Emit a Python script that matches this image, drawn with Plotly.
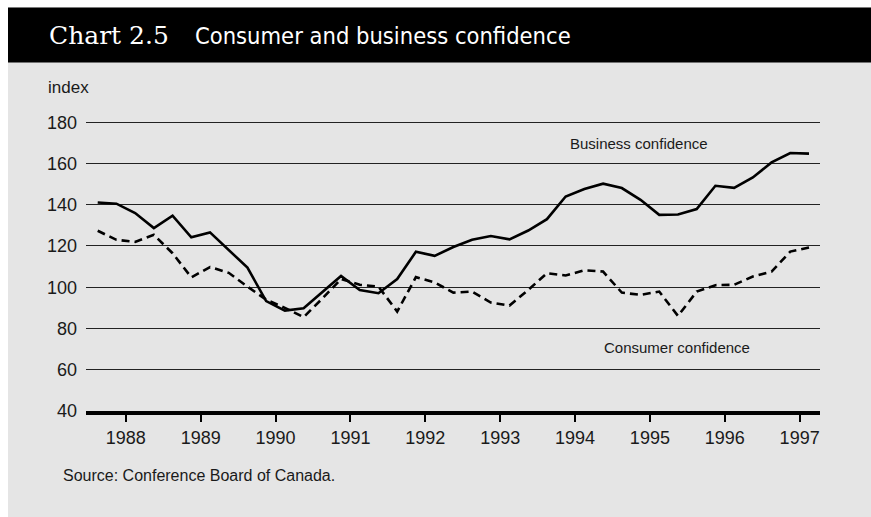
import plotly.graph_objects as go

# Quarterly observations, 1988Q1 - 1997Q3
years = list(range(1988, 1998))
quarters = [f"{1988 + i // 4}Q{i % 4 + 1}" for i in range(39)]

business = [141.1, 140.5, 136.0, 128.7, 134.7, 124.2, 126.6, 118.0, 109.5, 93.3,
            88.7, 89.8, 97.6, 105.5, 98.7, 97.1, 104.0, 117.2, 115.2, 119.5,
            123.0, 124.8, 123.2, 127.5, 133.0, 144.0, 147.6, 150.2, 148.1, 142.4,
            135.1, 135.3, 137.9, 149.2, 148.2, 153.2, 160.5, 165.1, 164.8]

consumer = [127.4, 123.0, 122.0, 125.4, 116.5, 104.8, 109.8, 107.0, 100.3, 94.0,
            90.0, 85.5, 94.5, 104.0, 101.2, 100.3, 88.2, 104.9, 102.3, 97.4,
            97.9, 92.6, 91.1, 98.7, 106.8, 105.7, 108.2, 107.6, 97.4, 96.3,
            97.9, 86.1, 97.9, 101.0, 101.2, 105.2, 107.6, 117.3, 119.3]

y_ticks = [40, 60, 80, 100, 120, 140, 160, 180]


def quarter_to_time(q):
    # centre of each quarter in decimal years
    yr, qq = int(q[:4]), int(q[-1])
    return yr + (qq - 0.5) / 4


t = [quarter_to_time(q) for q in quarters]

W, H = 871, 517
Y_MIN, Y_MAX = 40, 180.6          # a little headroom so the 180 rule is drawn
PX_PER_UNIT = 2.06
L, R, B = 86, 820, 411
T = B - (Y_MAX - Y_MIN) * PX_PER_UNIT


def xp(px):
    return (px - L) / (R - L)


def yp(py):
    return (B - py) / (B - T)


BG = "#e5e5e5"
INK = "#1a1a1a"
NARROW = "DejaVu Sans Condensed, Liberation Sans Narrow, Liberation Sans"

fig = go.Figure()
fig.add_trace(go.Scatter(x=t, y=business, mode="lines",
                         line=dict(color="black", width=2.6),
                         name="Business confidence", hoverinfo="skip"))
fig.add_trace(go.Scatter(x=t, y=consumer, mode="lines",
                         line=dict(color="black", width=2.6, dash="8px,5px"),
                         name="Consumer confidence", hoverinfo="skip"))

shapes = [
    # grey panel
    dict(type="rect", xref="paper", yref="paper", x0=xp(8), x1=xp(W + 2),
         y0=yp(H + 2), y1=yp(8), fillcolor=BG, line=dict(width=0), layer="below"),
    # black title band
    dict(type="rect", xref="paper", yref="paper", x0=xp(8), x1=xp(W + 2),
         y0=yp(63), y1=yp(8), fillcolor="black", line=dict(width=0), layer="below"),
]

annotations = [
    dict(text="Chart 2.5", x=xp(47), y=yp(36), xref="paper", yref="paper",
         xanchor="left", yanchor="middle", showarrow=False,
         font=dict(family="DejaVu Serif", size=25, color="white")),
    dict(text="Consumer and business confidence", x=xp(193), y=yp(36),
         xref="paper", yref="paper", xanchor="left", yanchor="middle",
         showarrow=False,
         font=dict(family=NARROW, size=23.5, color="white")),
    dict(text="index", x=xp(46), y=yp(88), xref="paper", yref="paper",
         xanchor="left", yanchor="middle", showarrow=False,
         font=dict(family="Liberation Sans", size=17, color=INK)),
    dict(text="Business confidence", x=xp(568), y=yp(144), xref="paper",
         yref="paper", xanchor="left", yanchor="middle", showarrow=False,
         font=dict(family="Liberation Sans", size=15, color=INK)),
    dict(text="Consumer confidence", x=xp(602), y=yp(348), xref="paper",
         yref="paper", xanchor="left", yanchor="middle", showarrow=False,
         font=dict(family="Liberation Sans", size=15, color=INK)),
    dict(text="Source: Conference Board of Canada.", x=xp(61), y=yp(475),
         xref="paper", yref="paper", xanchor="left", yanchor="middle",
         showarrow=False,
         font=dict(family="Liberation Sans", size=16, color=INK)),
]

# map the plot edges back to time using the quarter spacing of the series
px_first, px_last = 97.7, 809.0
step = (px_last - px_first) / (len(t) - 1)
x_left = t[0] + (L - px_first) / step * 0.25
x_right = t[-1] + (R - px_last) / step * 0.25

fig.update_layout(
    width=W, height=H,
    margin=dict(l=L, r=W - R, t=T, b=H - B, pad=0),
    paper_bgcolor="white", plot_bgcolor=BG,
    showlegend=False,
    shapes=shapes, annotations=annotations,
    xaxis=dict(range=[x_left, x_right], tickvals=[y + 0.5 for y in years],
               ticktext=[str(y) for y in years], showgrid=False, zeroline=False,
               showline=True, linecolor="black", linewidth=4,
               ticks="outside", ticklen=7, tickwidth=1.5, tickcolor="black",
               tickfont=dict(family="Liberation Sans", size=18, color=INK)),
    yaxis=dict(range=[Y_MIN, Y_MAX], tickvals=y_ticks, showgrid=True,
               gridcolor="#222222", gridwidth=1.3, zeroline=False,
               showline=False, ticks="", ticklabelstandoff=8,
               tickfont=dict(family="Liberation Sans", size=18, color=INK)),
)

fig.write_html("out.html")
